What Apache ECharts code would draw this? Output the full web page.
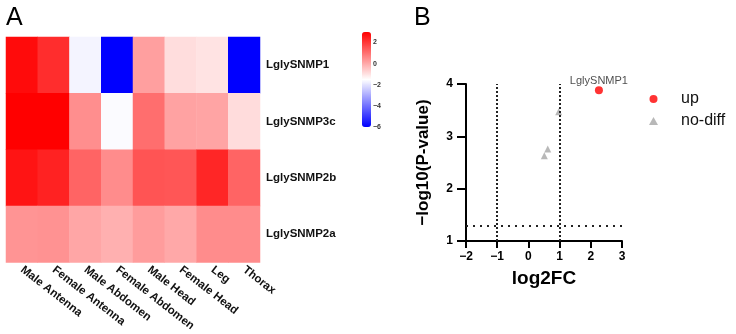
<!DOCTYPE html>
<html><head><meta charset="utf-8">
<script src="https://cdn.jsdelivr.net/npm/echarts@6/dist/echarts.min.js"></script>
<style>html,body{margin:0;padding:0;background:#fff}#c{width:736px;height:334px}</style>
</head><body><div id="c"></div>
<script>
// ---- Panel A: heatmap data ----
const tissues = ['Male Antenna','Female Antenna','Male Abdomen','Female Abdomen','Male Head','Female Head','Leg','Thorax'];
const genes = ['LglySNMP1','LglySNMP3c','LglySNMP2b','LglySNMP2a'];
const snmp1  = [2.8, 2.2, -1.7, -6.0, 0.2, -0.9, -1.0, -6.0];
const snmp3c = [3.0, 3.0, 0.5, -1.57, 1.06, 0.14, 0.1, -0.88];
const snmp2b = [2.65, 2.4, 1.24, 0.53, 1.52, 1.48, 2.33, 1.24];
const snmp2a = [0.39, 0.42, 0.07, -0.1, 0.25, 0.04, 0.53, 0.53];
const colorMin = -6, colorMax = 3, colorStep = 2;

// ---- Panel B: volcano data ----
const upPoints = [[2.26, 3.88]];
const upLabels = ['LglySNMP1'];
const noDiffPoints = [[0.97, 3.47], [0.62, 2.76], [0.51, 2.63]];
const foldCutoffs = [-1, 1];
const pCutoff = 1.301;

const rows = [snmp1, snmp3c, snmp2b, snmp2a];
const heatData = [];
rows.forEach((r, gi) => r.forEach((v, ti) => heatData.push([ti, gi, v])));
const FONT = 'Liberation Sans, Arial, sans-serif';
const minus = v => String(v).replace('-', '\u2212');

const chart = echarts.init(document.getElementById('c'), null, {renderer: 'canvas'});
chart.setOption({
  animation: false,
  backgroundColor: '#fff',
  textStyle: {fontFamily: FONT},
  title: [
    {text: 'A', left: 6, top: 6, padding: 0, textStyle: {fontSize: 25, fontWeight: 'normal', color: '#000', fontFamily: FONT}},
    {text: 'B', left: 414, top: 6, padding: 0, textStyle: {fontSize: 25, fontWeight: 'normal', color: '#000', fontFamily: FONT}}
  ],
  grid: [
    {left: 6, top: 37, width: 254, height: 228},
    {left: 466, top: 84, width: 156, height: 157},
    {left: 371, top: 32, width: 1, height: 95}
  ],
  xAxis: [
    {gridIndex: 0, type: 'category', data: tissues, axisLine: {show: false}, axisTick: {show: false},
     axisLabel: {interval: 0, rotate: -38, margin: 6, fontSize: 11.5, fontWeight: 'bold', color: '#111', fontFamily: FONT}},
    {gridIndex: 1, type: 'value', min: -2, max: 3, interval: 1, splitLine: {show: false},
     axisLine: {show: true, onZero: false, lineStyle: {color: '#000', width: 2}},
     axisTick: {show: true, length: 7, lineStyle: {color: '#000', width: 2}},
     axisLabel: {margin: 10, fontSize: 12, fontWeight: 'bold', color: '#000', formatter: minus, fontFamily: FONT},
     name: 'log2FC', nameLocation: 'middle', nameGap: 28,
     nameTextStyle: {fontSize: 19, fontWeight: 'bold', color: '#000', fontFamily: FONT}},
    {gridIndex: 2, type: 'value', show: false}
  ],
  yAxis: [
    {gridIndex: 0, type: 'category', data: genes, inverse: true, position: 'right',
     axisLine: {show: false}, axisTick: {show: false},
     axisLabel: {margin: 6, fontSize: 11.5, fontWeight: 'bold', color: '#111', fontFamily: FONT}},
    {gridIndex: 1, type: 'value', min: 1, max: 4, interval: 1, splitLine: {show: false},
     axisLine: {show: true, onZero: false, lineStyle: {color: '#000', width: 2}},
     axisTick: {show: true, length: 9, lineStyle: {color: '#000', width: 2}},
     axisLabel: {margin: 13, fontSize: 12, fontWeight: 'bold', color: '#000', formatter: minus, fontFamily: FONT},
     name: '\u2212log10(P-value)', nameLocation: 'middle', nameGap: 34,
     nameTextStyle: {fontSize: 17, fontWeight: 'bold', color: '#000', fontFamily: FONT}},
    {gridIndex: 2, type: 'value', min: colorMin, max: colorMax, interval: colorStep,
     axisLine: {show: false}, axisTick: {show: false}, splitLine: {show: false},
     axisLabel: {inside: true, margin: 2, showMaxLabel: false, fontSize: 7, fontWeight: 'bold', color: '#333', formatter: minus, fontFamily: FONT}}
  ],
  visualMap: {
    type: 'continuous', min: colorMin, max: colorMax, seriesIndex: 0, calculable: false,
    left: 362, top: 32, itemWidth: 9, itemHeight: 95, padding: 0,
    inRange: {color: ['#0000ff', '#ffffff', '#ff0000']}
  },
  legend: {
    orient: 'vertical', left: 644, top: 86, itemWidth: 9, itemHeight: 8, itemGap: 6,
    textStyle: {fontSize: 16, color: '#111', fontFamily: FONT, padding: [0, 0, 0, 18]},
    data: ['up', 'no-diff']
  },
  series: [
    {type: 'heatmap', xAxisIndex: 0, yAxisIndex: 0, data: heatData, itemStyle: {borderWidth: 0}},
    {type: 'scatter', name: 'up', xAxisIndex: 1, yAxisIndex: 1, data: upPoints,
     symbol: 'circle', symbolSize: 8, itemStyle: {color: '#ff0000'},
     label: {show: true, position: 'top', distance: 0, fontSize: 11, color: '#222', fontFamily: FONT,
             formatter: p => upLabels[p.dataIndex]}},
    {type: 'scatter', name: 'no-diff', xAxisIndex: 1, yAxisIndex: 1, data: noDiffPoints,
     symbol: 'triangle', symbolSize: 7, itemStyle: {color: '#a6a6a6'},
     markLine: {silent: true, symbol: ['none', 'none'], label: {show: false},
       lineStyle: {color: '#222', width: 2, type: [2, 2]},
       data: [{xAxis: foldCutoffs[0]}, {xAxis: foldCutoffs[1]},
              {yAxis: pCutoff, lineStyle: {type: [2, 5], color: '#222', width: 2}}]}}
  ]
});
</script></body></html>
